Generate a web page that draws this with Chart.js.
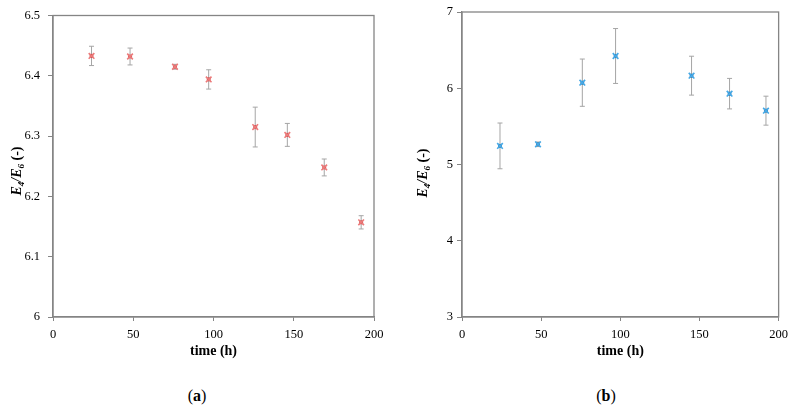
<!DOCTYPE html>
<html>
<head>
<meta charset="utf-8">
<script src="https://cdn.jsdelivr.net/npm/chart.js@4"></script>
<style>
body { margin: 0; width: 794px; height: 416px; background: #fff; position: relative; overflow: hidden; font-family: "Liberation Serif", serif; }
#wrapA { position: absolute; left: 0; top: 0; width: 397px; height: 360px; }
#wrapB { position: absolute; left: 400px; top: 0; width: 394px; height: 360px; }
.lbl { position: absolute; top: 387px; font-size: 16px; color: #000; transform: translateX(-50%); white-space: nowrap; }
.lbl b { font-weight: bold; }
</style>
</head>
<body>
<div id="wrapA"><canvas id="chartA"></canvas></div>
<div id="wrapB"><canvas id="chartB"></canvas></div>
<div class="lbl" style="left:197px">(<b>a</b>)</div>
<div class="lbl" style="left:606px">(<b>b</b>)</div>
<script>
// data
var timeA = [24, 48, 76, 97, 126, 146, 169, 192];
var ratioA = [6.433, 6.432, 6.415, 6.394, 6.315, 6.302, 6.248, 6.157];
var errA = [0.016, 0.014, 0.004, 0.016, 0.033, 0.019, 0.014, 0.011];

var timeB = [24, 48, 76, 97, 145, 169, 192];
var ratioB = [5.244, 5.265, 6.073, 6.423, 6.165, 5.929, 5.706];
var errB = [0.30, 0.03, 0.31, 0.36, 0.255, 0.20, 0.19];

var xTicks = [0, 50, 100, 150, 200];

var axisColor = '#858585';
var fontFam = '"Liberation Serif", serif';

// error bars, frame and y title
var extras = {
    id: 'extras',
    beforeDatasetsDraw(chart) {
        var ctx = chart.ctx;
        var xs = chart.scales.x, ys = chart.scales.y;
        var ds = chart.data.datasets[0];
        ctx.save();
        ctx.strokeStyle = '#a5a5a5';
        ctx.lineWidth = 1;
        ds.data.forEach((p, i) => {
            var e = ds.errors[i];
            var px = xs.getPixelForValue(p.x);
            var top = ys.getPixelForValue(p.y + e);
            var bot = ys.getPixelForValue(p.y - e);
            ctx.beginPath();
            ctx.moveTo(px, top); ctx.lineTo(px, bot);
            ctx.moveTo(px - 2.5, top); ctx.lineTo(px + 2.5, top);
            ctx.moveTo(px - 2.5, bot); ctx.lineTo(px + 2.5, bot);
            ctx.stroke();
        });
        ctx.restore();
    },
    afterDraw(chart, args, opts) {
        var ctx = chart.ctx;
        var a = chart.chartArea;
        ctx.save();
        ctx.strokeStyle = axisColor;
        ctx.lineWidth = 1.3;
        ctx.strokeRect(a.left, a.top, a.right - a.left, a.bottom - a.top);

        // y title E4/E6 (-)
        var parts = [
            { t: 'E', f: 'italic bold 14px ' + fontFam },
            { t: '4', f: 'italic bold 9px ' + fontFam, sub: true },
            { t: '/E', f: 'italic bold 14px ' + fontFam },
            { t: '6', f: 'italic bold 9px ' + fontFam, sub: true },
            { t: ' (-)', f: 'bold 14px ' + fontFam }
        ];
        var total = 0;
        parts.forEach(p => { ctx.font = p.f; p.w = ctx.measureText(p.t).width; total += p.w; });
        ctx.translate(opts.tx, opts.ty);
        ctx.rotate(-Math.PI / 2);
        ctx.fillStyle = '#000';
        ctx.textBaseline = 'middle';
        var x = -total / 2;
        parts.forEach(p => {
            ctx.font = p.f;
            ctx.fillText(p.t, x, p.sub ? 3.5 : -1);
            x += p.w;
        });
        ctx.restore();
    }
};

function makeChart(id, times, vals, errs, yMin, yMax, yStep, cross, core, axW, padT, padR, tickPad, titleX, titleY) {
    var pts = times.map((t, i) => ({ x: t, y: vals[i] }));
    return new Chart(document.getElementById(id), {
        type: 'scatter',
        data: {
            datasets: [{
                data: pts,
                errors: errs,
                pointStyle: 'crossRot',
                pointRadius: 4,
                borderColor: cross,
                borderWidth: 1.6,
                showLine: false
            }, {
                data: pts,
                pointStyle: 'rect',
                pointRadius: 2.2,
                backgroundColor: core,
                borderColor: core,
                borderWidth: 0.5,
                showLine: false
            }]
        },
        options: {
            responsive: true,
            maintainAspectRatio: false,
            animation: false,
            layout: { padding: { top: padT, right: padR, left: 0, bottom: 0 } },
            plugins: {
                legend: { display: false },
                tooltip: { enabled: false },
                extras: { tx: titleX, ty: titleY }
            },
            scales: {
                x: {
                    type: 'linear',
                    min: 0, max: 200,
                    afterBuildTicks: s => { s.ticks = xTicks.map(v => ({ value: v })); },
                    afterFit: s => { s.height = 43; },
                    grid: { drawOnChartArea: false, tickLength: 4, color: axisColor },
                    border: { color: axisColor, width: 1.3 },
                    ticks: { color: '#000', padding: 6, font: { family: fontFam, size: 12.5 } },
                    title: { display: true, text: 'time (h)', color: '#000', padding: { top: 0, bottom: 0 },
                        font: { family: fontFam, size: 14, weight: 'bold' } }
                },
                y: {
                    min: yMin, max: yMax,
                    afterFit: s => { s.width = axW; },
                    grid: { drawOnChartArea: false, tickLength: 5, color: axisColor },
                    border: { color: axisColor, width: 1.3 },
                    ticks: { stepSize: yStep, color: '#000', padding: tickPad,
                        font: { family: fontFam, size: 12.5 },
                        callback: v => String(+v.toFixed(1)) }
                }
            }
        },
        plugins: [extras]
    });
}

makeChart('chartA', timeA, ratioA, errA, 6, 6.5, 0.1, '#ec7a7a', '#c0302e', 53, 9, 23, 8, 18, 171);
makeChart('chartB', timeB, ratioB, errB, 3, 7, 1, '#45a9e6', '#17609e', 62, 12, 13, 4, 24, 173);
</script>
</body>
</html>
